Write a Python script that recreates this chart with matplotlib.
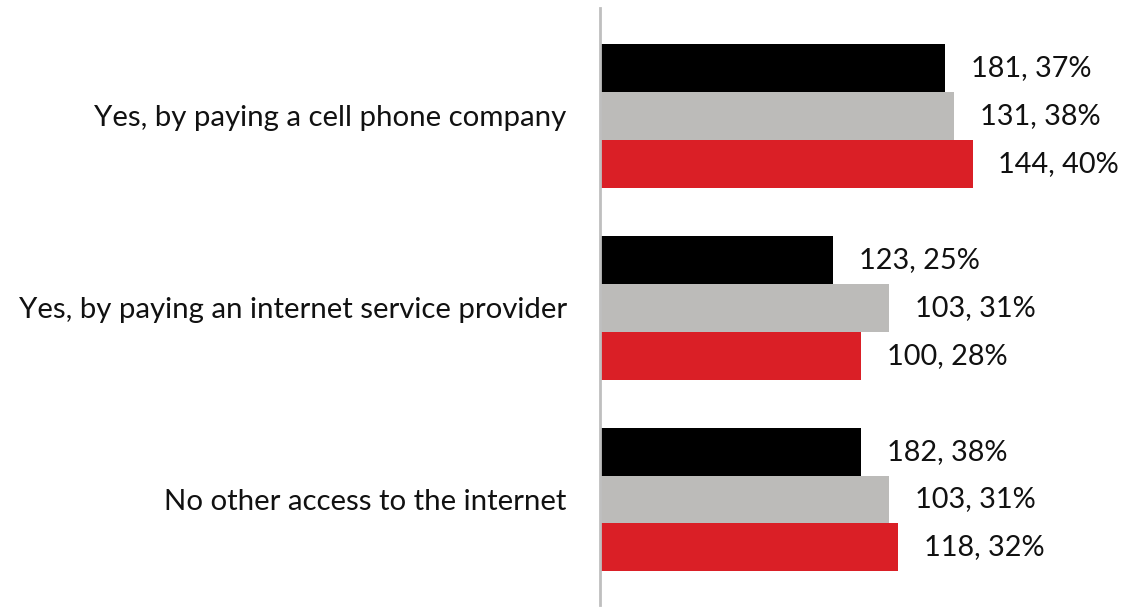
import numpy as np
import matplotlib.pyplot as plt

plt.rcParams['font.family'] = ['Lato', 'DejaVu Sans']

categories = ["Yes, by paying a cell phone company",
              "Yes, by paying an internet service provider",
              "No other access to the internet"]

# bar lengths (percent) as drawn, one list per series
black_vals = [37, 25, 28]
gray_vals = [38, 31, 31]
red_vals = [40, 28, 32]

black_labels = ["181, 37%", "123, 25%", "182, 38%"]
gray_labels = ["131, 38%", "103, 31%", "103, 31%"]
red_labels = ["144, 40%", "100, 28%", "118, 32%"]

colors = ["#000000", "#BCBBB9", "#DA1F26"]

fig = plt.figure(figsize=(11.44, 6.13), dpi=100)
ax = fig.add_axes([600 / 1144, 8 / 613, 544 / 1144, 597 / 613])

centers = np.arange(len(categories)) * 4
series = [(black_vals, black_labels), (gray_vals, gray_labels), (red_vals, red_labels)]
for i, (vals, labs) in enumerate(series):
    ys = centers + (i - 1)
    ax.barh(ys, vals, height=1.0, color=colors[i], linewidth=0)
    for y, v, t in zip(ys, vals, labs):
        ax.annotate(t, (v, y), xytext=(18.5, 0), textcoords="offset points",
                    va="center", ha="left", fontsize=20.8, color="#111111")

ax.set_xlim(0, 544 / 9.32)
ax.set_ylim(centers[-1] + 2.2, centers[0] - 2.25)
ax.set_yticks(centers)
ax.set_yticklabels(categories, fontsize=21.2, color="#111111")
ax.tick_params(axis="y", length=0, pad=24)
ax.set_xticks([])
for s in ["top", "right", "bottom"]:
    ax.spines[s].set_visible(False)
ax.spines["left"].set_color("#BFBFBF")
ax.spines["left"].set_linewidth(2)

fig.savefig("out.png", dpi=100)
